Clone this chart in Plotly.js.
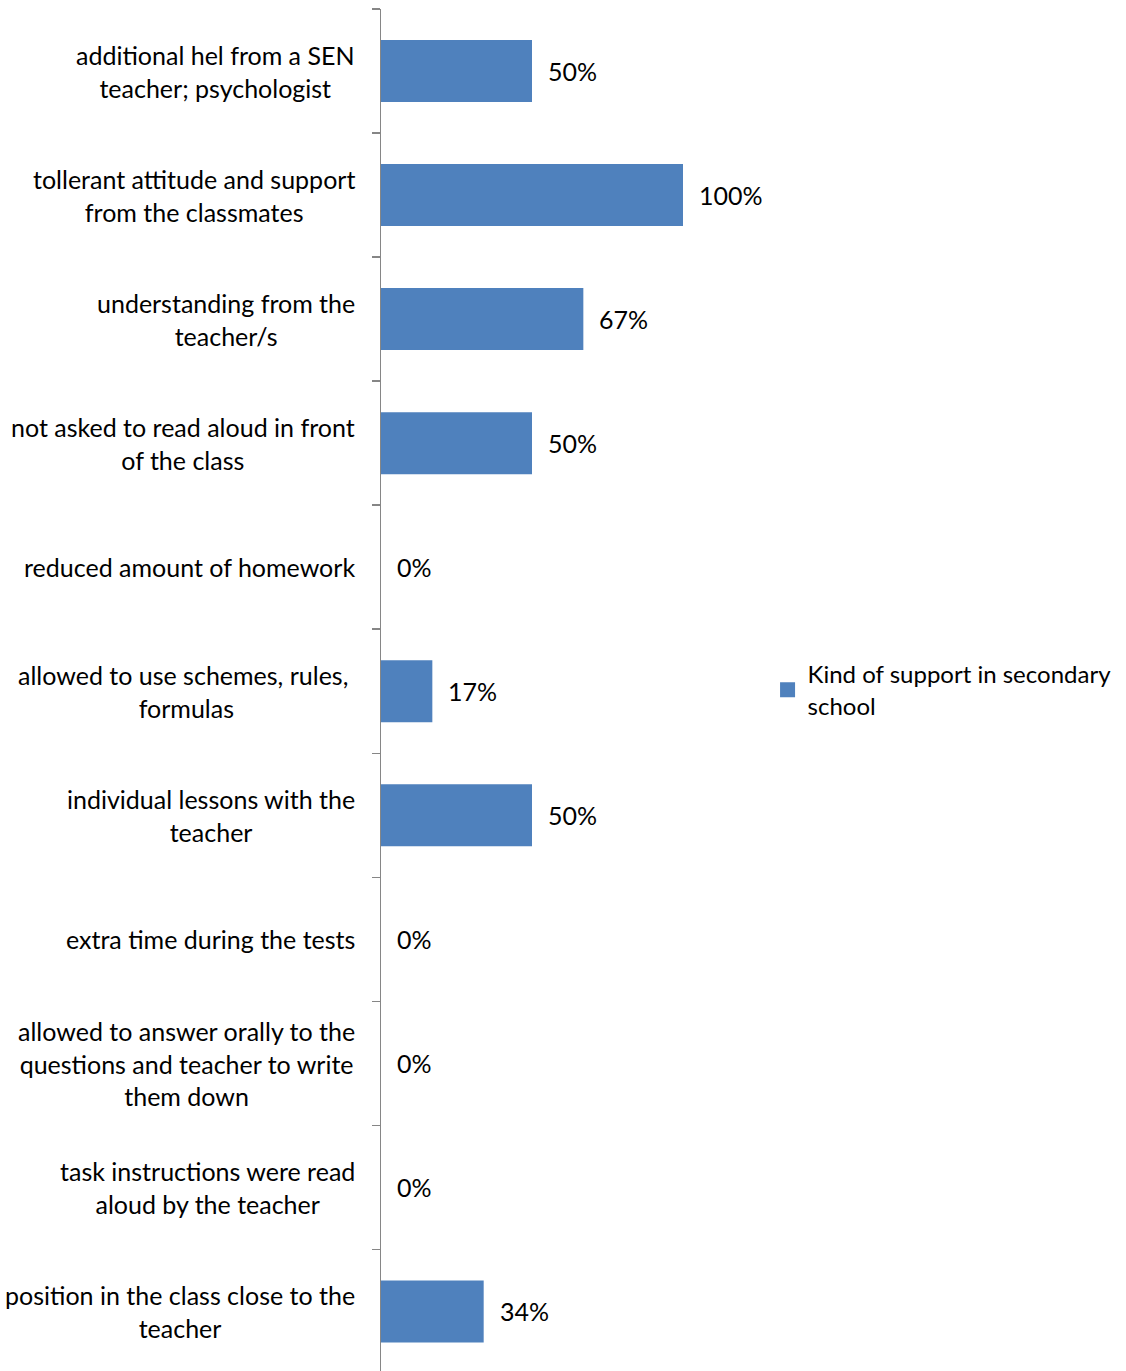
<!DOCTYPE html>
<html>
<head>
<meta charset="utf-8">
<script src="https://cdn.plot.ly/plotly-3.0.1.min.js"></script>
<style>html,body{margin:0;padding:0;background:#fff;}#chart{width:1126px;height:1371px;}</style>
</head>
<body>
<div id="chart"></div>
<script>
const categories = [
  "additional hel from a SEN<br>teacher; psychologist",
  "tollerant attitude and support<br>from the classmates",
  "understanding from the<br>teacher/s",
  "not asked to read aloud in front<br>of the class",
  "reduced amount of homework",
  "allowed to use schemes, rules, <br>formulas",
  "individual lessons with the<br>teacher",
  "extra time during the tests",
  "allowed to answer orally to the<br>questions and teacher to write<br>them down",
  "task instructions were read<br>aloud by the teacher",
  "position in the class close to the<br>teacher"
];
const values = [0.50, 1.00, 0.67, 0.50, 0.00, 0.17, 0.50, 0.00, 0.00, 0.00, 0.34];
const valueLabels = ["50%", "100%", "67%", "50%", "0%", "17%", "50%", "0%", "0%", "0%", "34%"];
const seriesName = "Kind of support in secondary<br>school";

const FONT = "Lato, 'Open Sans', sans-serif";
const FS = 25;
const COLOR = "#4F81BD";
const ids = categories.map((c, i) => "c" + i);

const barTrace = {
  type: "bar",
  orientation: "h",
  x: values,
  y: ids,
  name: seriesName,
  marker: {color: COLOR},
  hoverinfo: "skip",
  showlegend: false
};

// legend entry (square swatch like the original)
const legendTrace = {
  type: "scatter",
  mode: "markers",
  x: [null],
  y: [null],
  name: seriesName,
  marker: {symbol: "square", size: 15, color: COLOR},
  hoverinfo: "skip",
  showlegend: true
};

const annotations = [];
categories.forEach((c, i) => {
  annotations.push({
    xref: "paper", yref: "y", x: 0, y: ids[i],
    xanchor: "right", yanchor: "middle", xshift: -24,
    text: c, align: "center", showarrow: false,
    font: {family: FONT, size: FS, color: "#000"}
  });
  annotations.push({
    xref: "x", yref: "y", x: values[i], y: ids[i],
    xanchor: "left", yanchor: "middle", xshift: 14,
    text: valueLabels[i], showarrow: false,
    font: {family: FONT, size: FS, color: "#000"}
  });
});

const layout = {
  width: 1126, height: 1371,
  margin: {l: 381, r: 443, t: 9, b: 0, pad: 0},
  paper_bgcolor: "#fff", plot_bgcolor: "#fff",
  bargap: 0.5,
  font: {family: FONT, size: FS, color: "#000"},
  xaxis: {range: [0, 1], visible: false, fixedrange: true},
  yaxis: {
    type: "category",
    categoryorder: "array", categoryarray: ids,
    range: [10.48, -0.5],
    showticklabels: false,
    showline: true, linecolor: "#868686", linewidth: 1.5,
    ticks: "outside", ticklen: 8, tickcolor: "#868686", tickwidth: 1.5,
    tickson: "boundaries",
    showgrid: false, zeroline: false
  },
  showlegend: true,
  legend: {
    x: 1.28, xanchor: "left", y: 0.5, yanchor: "middle",
    font: {family: FONT, size: 24, color: "#000"},
    bgcolor: "rgba(0,0,0,0)"
  },
  annotations: annotations
};

Plotly.newPlot("chart", [barTrace, legendTrace], layout, {displayModeBar: false, staticPlot: true});
</script>
</body>
</html>
